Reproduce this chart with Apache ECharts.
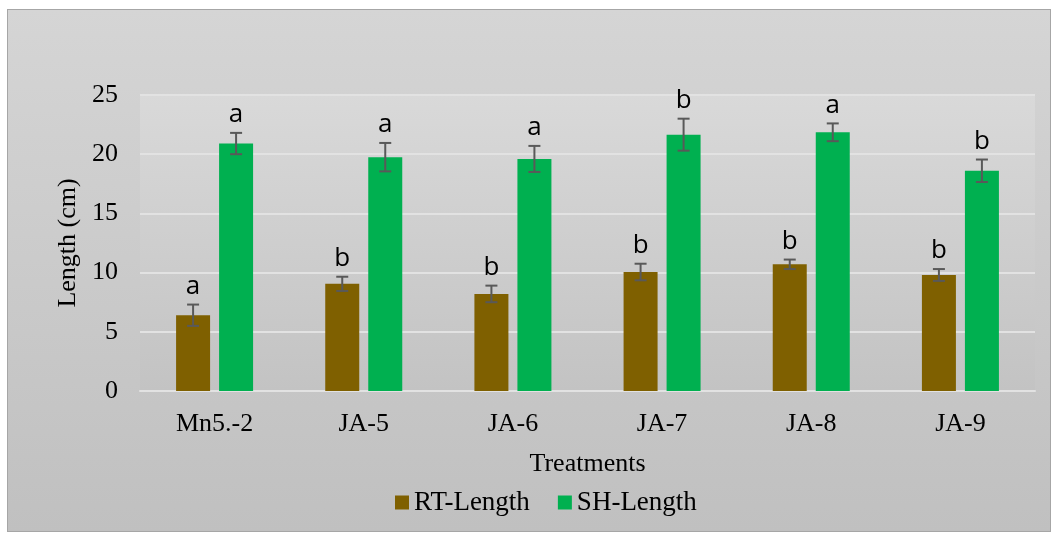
<!DOCTYPE html>
<html><head><meta charset="utf-8">
<script src="https://cdn.jsdelivr.net/npm/echarts@6/dist/echarts.min.js"></script>
<style>
html,body{margin:0;padding:0;background:#fff;}
#frame{position:absolute;left:7px;top:9px;width:1042px;height:521px;border:1px solid #a6a6a6;background:linear-gradient(#d5d5d5,#c0c0c0);}
#c{position:absolute;left:0;top:0;width:1056px;height:537px;}
</style></head>
<body>
<div id="frame"></div>
<div id="c"></div>
<script>
const categories = ['Mn5.-2','JA-5','JA-6','JA-7','JA-8','JA-9'];
const rtLength = [6.4, 9.05, 8.2, 10.05, 10.7, 9.8];
const rtError = [0.9, 0.6, 0.7, 0.7, 0.4, 0.5];
const rtLetters = ['a','b','b','b','b','b'];
const shLength = [20.9, 19.75, 19.6, 21.65, 21.85, 18.6];
const shError = [0.9, 1.2, 1.1, 1.35, 0.75, 0.95];
const shLetters = ['a','a','a','b','a','b'];
const yTicks = [0, 5, 10, 15, 20, 25];

const chart = echarts.init(document.getElementById('c'), null, {renderer:'canvas'});
const BW = 34, GAP = 9;
const offs = [-(BW+GAP)/2, (BW+GAP)/2];
const SERIF = '"Liberation Serif", "Times New Roman", serif';

function errSeries(name, vals, errs, letters, k){
  return {
    type:'custom', name: name + '-err', silent:true, z:5,
    data: vals.map((v,i)=>[i, v, errs[i]]),
    renderItem: function(params, api){
      const i = api.value(0), v = api.value(1), e = api.value(2);
      const letter = letters[params.dataIndex];
      const top = api.coord([i, v+e]);
      const bot = api.coord([i, v-e]);
      const x = top[0] + offs[k];
      const style = {stroke:'#595959', lineWidth:2};
      return {type:'group', children:[
        {type:'line', shape:{x1:x,y1:top[1],x2:x,y2:bot[1]}, style:style},
        {type:'line', shape:{x1:x-6,y1:top[1],x2:x+6,y2:top[1]}, style:style},
        {type:'line', shape:{x1:x-6,y1:bot[1],x2:x+6,y2:bot[1]}, style:style},
        {type:'text', style:{text:letter, x:x, y:top[1]-5, textAlign:'center', textVerticalAlign:'bottom', fill:'#000', font:'26px "Open Sans", sans-serif'}}
      ]};
    }
  };
}

chart.setOption({
  backgroundColor:'transparent',
  animation:false,
  grid:{left:140, right:21, top:95, bottom:146, containLabel:false, show:true, borderWidth:0,
    backgroundColor:{type:'linear',x:0,y:0,x2:0,y2:1,colorStops:[{offset:0,color:'#d9d9d9'},{offset:1,color:'#c3c3c3'}]}},
  legend:{data:['RT-Length','SH-Length'], top:484, left:390, itemWidth:14, itemHeight:14, itemGap:28, icon:'rect',
    textStyle:{fontFamily:SERIF, fontSize:27, color:'#000'}},
  xAxis:{type:'category', data:categories, name:'Treatments', nameLocation:'middle', nameGap:60,
    nameTextStyle:{fontFamily:SERIF, fontSize:26, color:'#000'},
    axisTick:{show:false}, axisLine:{lineStyle:{color:'#e2e2e2', width:2}},
    axisLabel:{fontFamily:SERIF, fontSize:26, color:'#000', margin:20}},
  yAxis:{type:'value', min:0, max:25, interval:5, name:'Length (cm)', nameLocation:'middle', nameGap:57,
    nameTextStyle:{fontFamily:SERIF, fontSize:26, color:'#000'},
    axisLine:{show:false}, axisTick:{show:false},
    axisLabel:{fontFamily:SERIF, fontSize:26, color:'#000', margin:22,
      formatter: v => yTicks.includes(v) ? String(v) : ''},
    splitLine:{lineStyle:{color:'#e2e2e2', width:2}}},
  series:[
    {name:'RT-Length', type:'bar', data:rtLength, barWidth:BW, barGap:'26.5%', itemStyle:{color:'#7f6000'}},
    {name:'SH-Length', type:'bar', data:shLength, barWidth:BW, itemStyle:{color:'#00b050'}},
    errSeries('RT-Length', rtLength, rtError, rtLetters, 0),
    errSeries('SH-Length', shLength, shError, shLetters, 1)
  ]
});
</script>
</body></html>
